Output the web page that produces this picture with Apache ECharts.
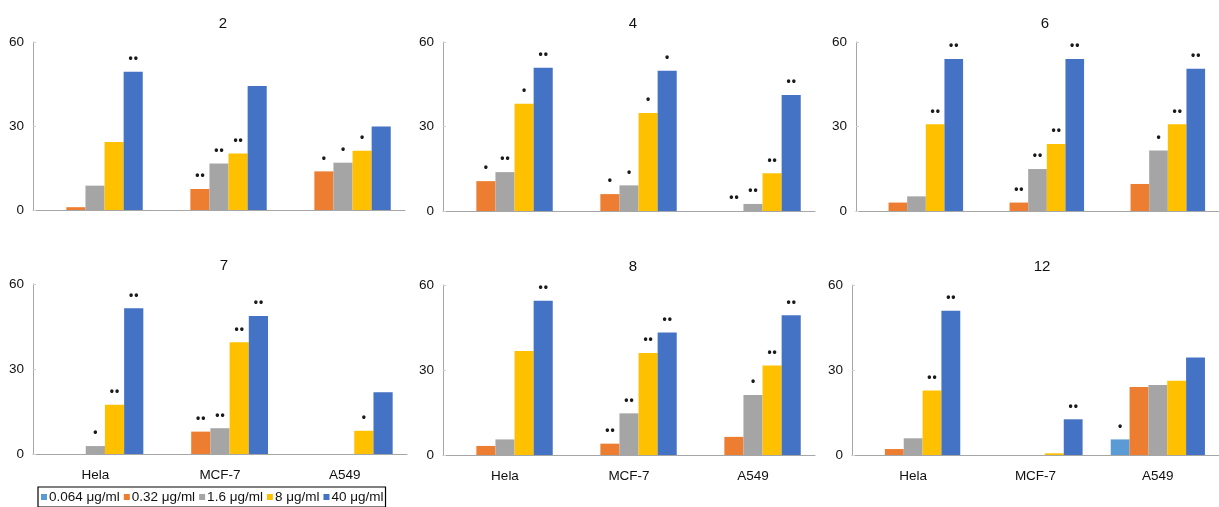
<!DOCTYPE html>
<html>
<head>
<meta charset="utf-8">
<script src="https://cdn.jsdelivr.net/npm/echarts@6/dist/echarts.min.js"></script>
<style>
html,body{margin:0;padding:0;background:#fff;}
#c{width:1219px;height:507px;}
</style>
</head>
<body>
<div id="c"></div>
<script>
// ---- data ----
const categories = ['Hela', 'MCF-7', 'A549'];
const seriesNames = ['0.064 μg/ml', '0.32 μg/ml', '1.6 μg/ml', '8 μg/ml', '40 μg/ml'];
const seriesColors = ['#5b9bd5', '#ed7d31', '#a5a5a5', '#ffc000', '#4472c4'];
const panelTitles = ['2', '4', '6', '7', '8', '12'];
const yTicks = [0, 30, 60];

// values per panel: rows = concentration series, columns = Hela, MCF-7, A549
const vals2  = [[0, 0, 0], [1.0, 7.5, 13.8], [8.7, 16.6, 16.9], [24.3, 20.2, 21.2], [49.4, 44.3, 29.8]];
const vals4  = [[0, 0, 0], [10.6, 6.0, 0], [13.8, 9.1, 2.5], [38.1, 34.8, 13.4], [50.9, 49.8, 41.2]];
const vals6  = [[0, 0, 0], [3.0, 3.0, 9.6], [5.2, 14.9, 21.5], [30.8, 23.8, 30.8], [54.0, 54.0, 50.5]];
const vals7  = [[0, 0, 0], [0, 7.9, 0], [2.8, 9.1, 0], [17.4, 39.4, 8.2], [51.4, 48.7, 21.8]];
const vals8  = [[0, 0, 0], [3.2, 4.0, 6.4], [5.5, 14.7, 21.2], [36.7, 36.0, 31.6], [54.4, 43.2, 49.3]];
const vals12 = [[0, 0, 5.5], [2.1, 0, 24.0], [5.9, 0, 24.7], [22.8, 0.6, 26.2], [50.9, 12.6, 34.4]];

// significance marks per panel (same layout as values)
const S = '•', D = '•\u200A•';
const sig2  = [['', '', ''], ['', D, S], ['', D, S], ['', D, S], [D, '', '']];
const sig4  = [['', '', ''], [S, S, D], [D, S, D], [S, S, D], [D, S, D]];
const sig6  = [['', '', ''], ['', D, ''], ['', D, S], [D, D, D], [D, D, D]];
const sig7  = [['', '', ''], ['', D, ''], [S, D, ''], [D, D, S], [D, D, '']];
const sig8  = [['', '', ''], ['', D, ''], ['', D, S], ['', D, D], [D, D, D]];
const sig12 = [['', '', S], ['', '', ''], ['', '', ''], [D, '', ''], [D, D, '']];

const panelValues = [vals2, vals4, vals6, vals7, vals8, vals12];
const panelSig = [sig2, sig4, sig6, sig7, sig8, sig12];

// ---- layout ----
const grids = [
  {left: 33,  top: 42,  width: 372, height: 168},
  {left: 443, top: 42,  width: 372, height: 169},
  {left: 856, top: 42,  width: 370, height: 169},
  {left: 33,  top: 284, width: 374, height: 170},
  {left: 443, top: 285, width: 372, height: 170},
  {left: 852, top: 285, width: 372, height: 170}
];
const FONT = "'Liberation Sans', Arial, sans-serif";
const axisColor = '#a6a6a6';

const option = {
  animation: false,
  backgroundColor: '#fff',
  color: seriesColors,
  textStyle: {fontFamily: FONT},
  title: panelTitles.map((t, i) => ({
    text: t,
    left: grids[i].left + grids[i].width / 2 - 1,
    top: grids[i].top - 31,
    textAlign: 'center',
    textStyle: {fontSize: 15, fontWeight: 'normal', color: '#111', fontFamily: FONT}
  })),
  legend: {
    left: 38, top: 487,
    data: seriesNames,
    icon: 'rect',
    itemWidth: 6, itemHeight: 6, itemGap: 4,
    padding: [3, 2, 3, 3],
    borderColor: '#000', borderWidth: 1.2,
    textStyle: {fontSize: 13.5, color: '#111', fontFamily: FONT, padding: [0, 0, 0, -3]}
  },
  grid: grids.map(g => Object.assign({containLabel: false}, g)),
  xAxis: grids.map((g, i) => ({
    type: 'category', gridIndex: i, data: categories,
    axisLine: {lineStyle: {color: axisColor, width: 1}},
    axisTick: {inside: true, length: 4, lineStyle: {color: axisColor}},
    axisLabel: {show: i >= 3, fontSize: 13.5, color: '#111', margin: 14, fontFamily: FONT},
    splitLine: {show: false}
  })),
  yAxis: grids.map((g, i) => ({
    type: 'value', gridIndex: i, min: yTicks[0], max: yTicks[yTicks.length - 1], interval: 30,
    axisLine: {show: true, lineStyle: {color: axisColor, width: 1}},
    axisTick: {show: true, inside: true, length: 3, lineStyle: {color: '#d0d0d0'}},
    axisLabel: {fontSize: 13.5, color: '#111', margin: 9, fontFamily: FONT},
    splitLine: {show: false}
  })),
  series: []
};

panelValues.forEach((vals, p) => {
  vals.forEach((row, s) => {
    option.series.push({
      type: 'bar',
      name: seriesNames[s],
      xAxisIndex: p, yAxisIndex: p,
      barGap: '0%',
      barCategoryGap: '23%',
      itemStyle: {color: seriesColors[s]},
      label: {
        show: true, position: 'top', distance: 7,
        fontSize: 12, fontWeight: 'bold', color: '#1a1a1a', fontFamily: FONT,
        formatter: (prm) => panelSig[p][s][prm.dataIndex]
      },
      data: row
    });
  });
});

const chart = echarts.init(document.getElementById('c'), null, {renderer: 'canvas'});
chart.setOption(option);
</script>
</body>
</html>
